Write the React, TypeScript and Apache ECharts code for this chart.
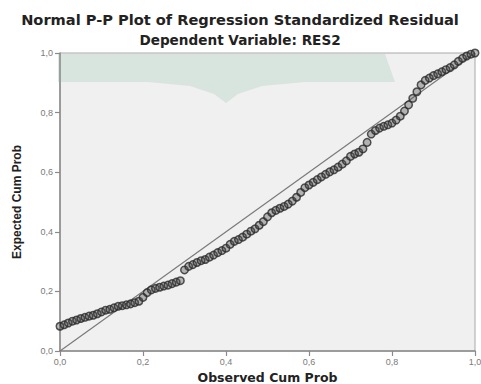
import React, { useEffect, useRef } from "react";
import * as echarts from "echarts";

const titleText = "Normal P-P Plot of Regression Standardized Residual";
const subtitleText = "Dependent Variable: RES2";
const xAxisName = "Observed Cum Prob";
const yAxisName = "Expected Cum Prob";

// Observed cumulative probabilities (x) and expected cumulative probabilities (y)
const observedCumProb = [
  0.0, 0.01, 0.02, 0.03, 0.04, 0.05, 0.06, 0.07, 0.08, 0.09,
  0.1, 0.11, 0.12, 0.13, 0.14, 0.15, 0.16, 0.17, 0.18, 0.19,
  0.2, 0.21, 0.22, 0.23, 0.24, 0.25, 0.26, 0.27, 0.28, 0.29,
  0.3, 0.31, 0.32, 0.33, 0.34, 0.35, 0.36, 0.37, 0.38, 0.39,
  0.4, 0.41, 0.42, 0.43, 0.44, 0.45, 0.46, 0.47, 0.48, 0.49,
  0.5, 0.51, 0.52, 0.53, 0.54, 0.55, 0.56, 0.57, 0.58, 0.59,
  0.6, 0.61, 0.62, 0.63, 0.64, 0.65, 0.66, 0.67, 0.68, 0.69,
  0.7, 0.71, 0.72, 0.73, 0.74, 0.75, 0.76, 0.77, 0.78, 0.79,
  0.8, 0.81, 0.82, 0.83, 0.84, 0.85, 0.86, 0.87, 0.88, 0.89,
  0.9, 0.91, 0.92, 0.93, 0.94, 0.95, 0.96, 0.97, 0.98, 0.99, 1.0,
];
const expectedCumProb = [
  0.083, 0.088, 0.094, 0.1, 0.104, 0.109, 0.113, 0.117, 0.12, 0.125,
  0.131, 0.137, 0.14, 0.145, 0.15, 0.152, 0.155, 0.158, 0.162, 0.167,
  0.18, 0.196, 0.205, 0.21, 0.214, 0.218, 0.221, 0.226, 0.231, 0.236,
  0.272, 0.284, 0.29, 0.297, 0.303, 0.307, 0.315, 0.322, 0.33, 0.337,
  0.345, 0.358, 0.368, 0.374, 0.382, 0.392, 0.402, 0.41, 0.422, 0.434,
  0.45, 0.464, 0.472, 0.479, 0.485, 0.493, 0.503, 0.516, 0.532, 0.548,
  0.557, 0.566, 0.575, 0.584, 0.593, 0.601, 0.608, 0.617, 0.627, 0.638,
  0.653, 0.661, 0.667, 0.678, 0.7, 0.728, 0.74, 0.748, 0.754, 0.759,
  0.765, 0.775, 0.788, 0.805, 0.826, 0.848, 0.87, 0.893, 0.908, 0.916,
  0.924, 0.93, 0.937, 0.944, 0.951, 0.96, 0.972, 0.982, 0.99, 0.996, 1.0,
];
const referenceLine = [
  [0, 0],
  [1, 1],
];

export default function App() {
  const ref = useRef<HTMLDivElement>(null);

  useEffect(() => {
    if (!ref.current) return;
    const chart = echarts.init(ref.current, null, { renderer: "svg" });
    const fmt = (v: number) => v.toFixed(1).replace(".", ",");
    const points = observedCumProb.map((x, i) => [x, expectedCumProb[i]]);

    const axisCommon = {
      min: 0,
      max: 1,
      interval: 0.2,
      splitLine: { show: false },
      axisLine: { show: true, lineStyle: { color: "#8a8a8a", width: 1.5 } },
      axisTick: { show: true, length: 5, lineStyle: { color: "#8a8a8a", width: 1.2 } },
      axisLabel: {
        formatter: fmt,
        color: "#7a7a7a",
        fontSize: 9,
        fontFamily: "Arial, Liberation Sans, sans-serif",
      },
      nameLocation: "middle" as const,
    };

    chart.setOption({
      animation: false,
      backgroundColor: "#ffffff",
      graphic: [
        {
          type: "polygon",
          z: 0,
          silent: true,
          shape: {
            points: [
              [58, 54],
              [385, 54],
              [395, 82],
              [305, 82],
              [262, 86],
              [238, 94],
              [226, 103],
              [214, 94],
              [190, 86],
              [148, 82],
              [58, 82],
            ],
          },
          style: { fill: "rgba(200,222,212,0.6)" },
        },
        {
          type: "text",
          x: 240,
          y: 19,
          style: {
            text: titleText,
            align: "center",
            verticalAlign: "middle",
            fontSize: 14.6,
            fontWeight: "bold",
            fontFamily: "DejaVu Sans, Verdana, sans-serif",
            fill: "#222",
          },
        },
        {
          type: "text",
          x: 240,
          y: 40,
          style: {
            text: subtitleText,
            align: "center",
            verticalAlign: "middle",
            fontSize: 13.6,
            fontWeight: "bold",
            fontFamily: "DejaVu Sans, Verdana, sans-serif",
            fill: "#222",
          },
        },
      ],
      grid: {
        left: 60,
        right: 6,
        top: 53,
        bottom: 33,
        outerBoundsMode: "none",
        containLabel: false,
        show: true,
        backgroundColor: "#f0f0f0",
        borderColor: "#a8a8a8",
        borderWidth: 1,
        z: -1,
      },
      xAxis: {
        ...axisCommon,
        type: "value",
        name: xAxisName,
        nameGap: 20,
        nameTextStyle: {
          color: "#222",
          fontWeight: "bold",
          fontSize: 12.5,
          fontFamily: "DejaVu Sans, Verdana, sans-serif",
        },
        axisLabel: { ...axisCommon.axisLabel, margin: 6 },
      },
      yAxis: {
        ...axisCommon,
        type: "value",
        name: yAxisName,
        nameGap: 37,
        nameTextStyle: {
          color: "#222",
          fontWeight: "bold",
          fontSize: 12,
          fontFamily: "Liberation Sans Narrow, Arial Narrow, Liberation Sans, sans-serif",
        },
        axisLabel: { ...axisCommon.axisLabel, margin: 7 },
      },
      series: [
        {
          type: "line",
          data: referenceLine,
          symbol: "none",
          lineStyle: { color: "#7a7a7a", width: 1.2 },
          z: 2,
        },
        {
          type: "scatter",
          data: points,
          symbol: "circle",
          symbolSize: 7.5,
          itemStyle: {
            color: "rgba(70,70,70,0.45)",
            borderColor: "#2a2a2a",
            borderWidth: 1.5,
          },
          z: 3,
        },
      ],
    });
    return () => chart.dispose();
  }, []);

  return (
    <div
      ref={ref}
      style={{ position: "fixed", left: 0, top: 0, width: 481, height: 384 }}
    />
  );
}
